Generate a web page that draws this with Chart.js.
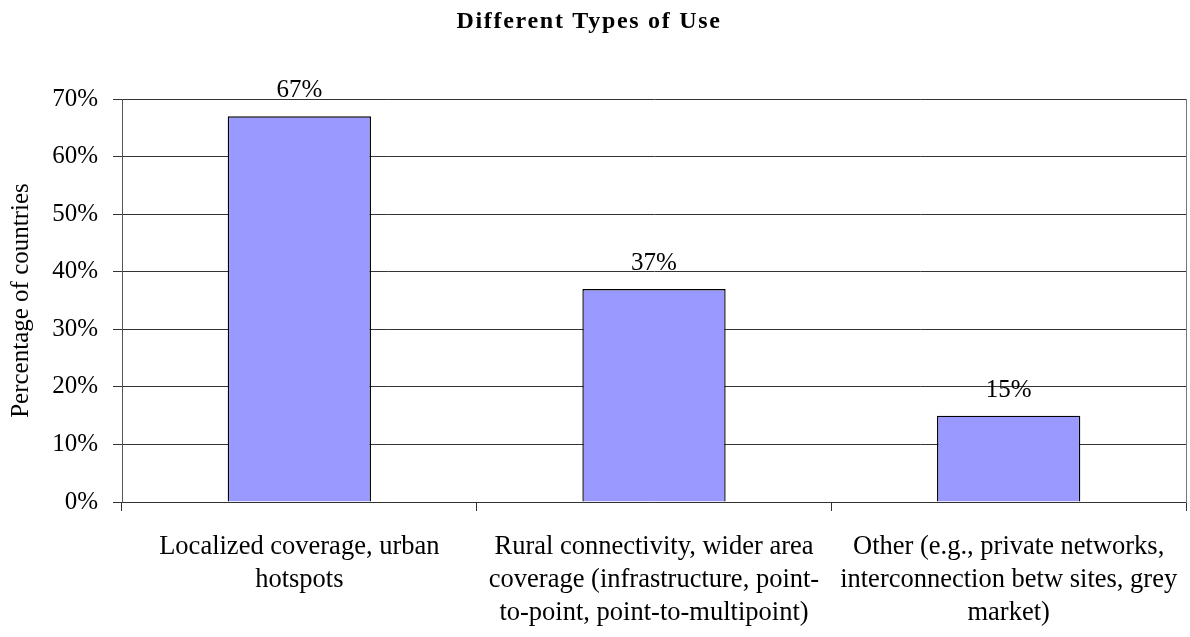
<!DOCTYPE html>
<html>
<head>
<meta charset="utf-8">
<title>Different Types of Use</title>
<script src="https://cdn.jsdelivr.net/npm/chart.js@4/dist/chart.umd.min.js"></script>
<style>
    html, body { margin: 0; padding: 0; background: #fff; }
    #chart { display: block; }
</style>
</head>
<body>
<canvas id="chart" width="1190" height="637"></canvas>
<script>
const chartTitle = 'Different Types of Use';
const categories = [
    ['Localized coverage, urban', 'hotspots'],
    ['Rural connectivity, wider area', 'coverage (infrastructure, point-', 'to-point, point-to-multipoint)'],
    ['Other (e.g., private networks,', 'interconnection betw sites, grey', 'market)']
];
const shareOfCountries = [67, 37, 15];
const yTicks = [0, 10, 20, 30, 40, 50, 60, 70];

const serif = '"Liberation Serif", "Times New Roman", serif';
const lineColor = '#333';

// spaced-out bold heading (the built-in title has no letter spacing)
const spacedTitle = {
    id: 'spacedTitle',
    afterDraw(chart) {
        const ctx = chart.ctx;
        ctx.save();
        ctx.font = 'bold 24px ' + serif;
        ctx.letterSpacing = '1.7px';
        ctx.fillStyle = '#000';
        ctx.textAlign = 'center';
        ctx.textBaseline = 'alphabetic';
        ctx.fillText(chartTitle, 589, 28);
        ctx.restore();
    }
};

// value labels above each bar, read from the bar elements themselves
const barValueLabels = {
    id: 'barValueLabels',
    afterDatasetsDraw(chart) {
        const ctx = chart.ctx;
        const meta = chart.getDatasetMeta(0);
        ctx.save();
        ctx.font = '25px ' + serif;
        ctx.fillStyle = '#000';
        ctx.textAlign = 'center';
        ctx.textBaseline = 'alphabetic';
        meta.data.forEach((bar, i) => {
            ctx.fillText(shareOfCountries[i] + '%', bar.x, bar.y - 19);
        });
        ctx.restore();
    }
};

new Chart(document.getElementById('chart'), {
    type: 'bar',
    data: {
        labels: categories,
        datasets: [{
            data: shareOfCountries,
            backgroundColor: '#9999ff',
            borderColor: '#000',
            borderWidth: 1.4,
            categoryPercentage: 1,
            barPercentage: 0.404
        }]
    },
    options: {
        responsive: false,
        animation: false,
        layout: { padding: { left: 0, right: 4, top: 99, bottom: 0 } },
        plugins: {
            legend: { display: false },
            tooltip: { enabled: false },
            title: { display: false }
        },
        scales: {
            x: {
                grid: {
                    offset: true,
                    drawOnChartArea: false,
                    drawTicks: true,
                    tickLength: 9,
                    color: lineColor
                },
                border: { color: lineColor, width: 1 },
                ticks: {
                    autoSkip: false,
                    maxRotation: 0,
                    minRotation: 0,
                    color: '#000',
                    padding: 20,
                    font: { family: serif, size: 26.5, lineHeight: '33px' }
                },
                afterFit(scale) {
                    scale.height = 135;
                    // long labels may overhang the edges; keep the plot full width
                    scale.paddingLeft = 0;
                    scale.paddingRight = 0;
                }
            },
            y: {
                min: 0,
                max: 70,
                afterBuildTicks(scale) {
                    scale.ticks = yTicks.map(v => ({ value: v }));
                },
                grid: {
                    color: lineColor,
                    lineWidth: 1,
                    drawTicks: true,
                    tickLength: 9
                },
                border: { color: '#555', width: 1 },
                ticks: {
                    color: '#000',
                    padding: 15,
                    font: { family: serif, size: 25 },
                    callback: v => v + '%'
                },
                title: {
                    display: true,
                    text: 'Percentage of countries',
                    color: '#000',
                    font: { family: serif, size: 25 },
                    padding: { top: 6, bottom: 0 }
                },
                afterFit(scale) { scale.width = 122; }
            },
            right: {
                type: 'linear',
                position: 'right',
                min: 0,
                max: 70,
                grid: { drawOnChartArea: false, drawTicks: false },
                border: { color: '#777', width: 1 },
                ticks: { display: false },
                afterFit(scale) { scale.width = 0; }
            }
        }
    },
    plugins: [barValueLabels, spacedTitle]
});
</script>
</body>
</html>
